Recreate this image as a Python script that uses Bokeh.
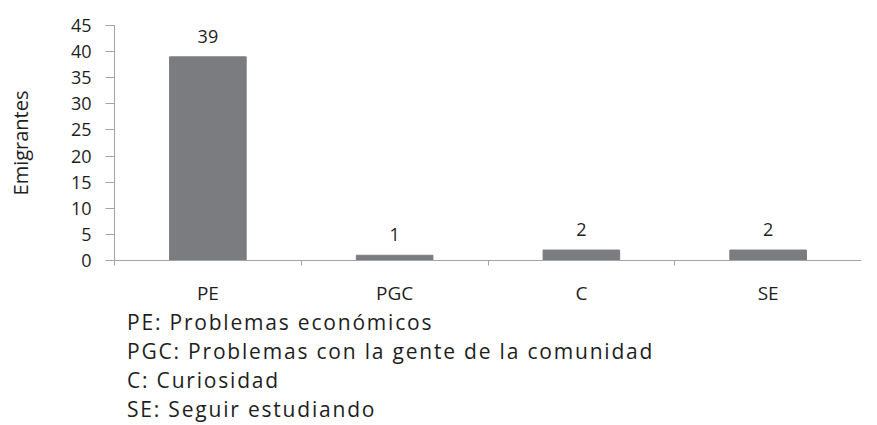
from bokeh.plotting import figure
from bokeh.models import ColumnDataSource, FixedTicker, Range1d, Div
from bokeh.layouts import column
from bokeh.core.properties import value
from bokeh.embed import file_html
from bokeh.resources import INLINE

categories = ["PE", "PGC", "C", "SE"]
emigrants = [39, 1, 2, 2]
y_ticks = [0, 5, 10, 15, 20, 25, 30, 35, 40, 45]
notes = [
    "PE: Problemas económicos",
    "PGC: Problemas con la gente de la comunidad",
    "C: Curiosidad",
    "SE: Seguir estudiando",
]

FONT = "Open Sans"
TEXT = "#1e1e1e"
AXIS = "#a3a3a3"
BAR = "#7b7c80"

xpos = [i + 0.5 for i in range(len(categories))]
src = ColumnDataSource(dict(x=xpos, y=emigrants, lbl=[str(v) for v in emigrants]))

p = figure(width=861, height=308, output_backend="svg", toolbar_location=None,
           x_range=Range1d(0, len(categories)), y_range=Range1d(0, 45),
           min_border_left=114, min_border_right=0, min_border_top=25,
           min_border_bottom=45)
p.outline_line_color = None
p.xgrid.grid_line_color = None
p.ygrid.grid_line_color = None

p.vbar(x="x", top="y", width=0.41, source=src, fill_color=BAR, line_color=BAR)
p.text(x="x", y="y", text="lbl", source=src, text_align="center",
       text_baseline="bottom", y_offset=-14, text_font=value(FONT),
       text_font_size="18px", text_color=TEXT)

# x axis: labels at category centres, ticks at category boundaries
xa = p.xaxis[0]
xa.ticker = FixedTicker(ticks=xpos, minor_ticks=list(range(len(categories) + 1)))
xa.major_label_overrides = {x: c for x, c in zip(xpos, categories)}
xa.major_tick_out = 0
xa.major_tick_in = 0
xa.minor_tick_out = 5
xa.minor_tick_in = 0
xa.minor_tick_line_color = AXIS
xa.axis_line_color = AXIS
xa.major_label_standoff = 14
xa.major_label_text_font = FONT
xa.major_label_text_font_size = "19px"
xa.major_label_text_color = TEXT

ya = p.yaxis[0]
ya.ticker = FixedTicker(ticks=y_ticks)
ya.major_tick_out = 9
ya.major_tick_in = 0
ya.minor_tick_line_color = None
ya.major_tick_line_color = AXIS
ya.axis_line_color = AXIS
ya.major_label_standoff = 14
ya.major_label_text_font = FONT
ya.major_label_text_font_size = "18px"
ya.major_label_text_color = TEXT
ya.axis_label = "Emigrantes"
ya.axis_label_standoff = 34
ya.axis_label_text_font = FONT
ya.axis_label_text_font_size = "20px"
ya.axis_label_text_font_style = "normal"
ya.axis_label_text_color = TEXT

notes_html = "<br>".join(notes)
div = Div(text=notes_html, width=861, height=100,
          styles={"font-family": "'Open Sans'", "font-size": "21px",
                  "line-height": "29px", "color": TEXT,
                  "letter-spacing": "1.8px",
                  "padding-left": "122px", "margin-top": "0px",
                  "white-space": "nowrap"})

layout = column(p, div, spacing=0)
open("out.html", "w").write(file_html(layout, INLINE))
